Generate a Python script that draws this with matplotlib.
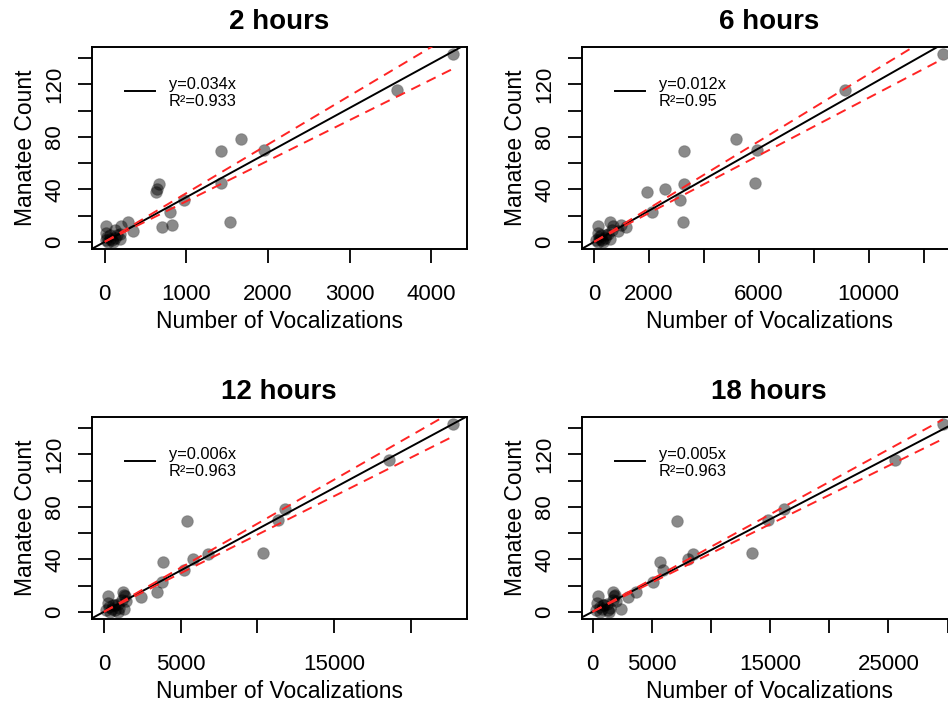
import matplotlib
matplotlib.use('Agg')
import matplotlib.pyplot as plt
import numpy as np

plt.rcParams['font.family'] = ['Liberation Sans', 'DejaVu Sans']

# manatee counts per event (same events in every panel)
manatee_count = [143, 116, 78, 70, 69, 45, 44, 40, 38, 32, 23, 15, 15, 13, 11, 12,
                 12, 8, 7, 6, 5, 4, 3, 2, 2, 1, 1, 0, 0, 5, 9]

# number of vocalizations for each time window
voc_2h = [4266, 3579, 1669, 1955, 1419, 1427, 659, 645, 634, 973, 798, 1530, 286, 826, 703, 12,
          205, 347, 20, 190, 150, 30, 120, 184, 61, 90, 10, 45, 100, 70, 130]
voc_6h = [12700, 9143, 5155, 5945, 3270, 5860, 3270, 2578, 1933, 3125, 2091, 3246, 571, 985, 1167, 150,
          700, 864, 135, 500, 420, 180, 380, 560, 220, 300, 50, 150, 330, 260, 640]
voc_12h = [22720, 18587, 11761, 11348, 5435, 10370, 6783, 5804, 3848, 5196, 3783, 3478, 1219, 1300, 2412, 241,
           1350, 1434, 241, 900, 750, 350, 1000, 1330, 500, 700, 110, 400, 900, 600, 1200]
voc_18h = [29600, 25578, 16215, 14862, 7107, 13452, 8460, 8094, 5696, 5978, 5076, 3666, 1717, 1900, 2986, 448,
           1800, 2000, 400, 1200, 1000, 600, 1500, 2420, 800, 1294, 260, 600, 1400, 900, 1700]

titles = ['2 hours', '6 hours', '12 hours', '18 hours']
slopes = [0.034, 0.01188, 0.0063, 0.0047]
ci_half = [0.0031, 0.0009, 0.00042, 0.00025]
eq_labels = ['y=0.034x', 'y=0.012x', 'y=0.006x', 'y=0.005x']
r2_labels = ['R\u00b2=0.933', 'R\u00b2=0.95', 'R\u00b2=0.963', 'R\u00b2=0.963']

x_ticks = [[0, 1000, 2000, 3000, 4000],
           [0, 2000, 4000, 6000, 8000, 10000, 12000],
           [0, 5000, 10000, 15000, 20000],
           [0, 5000, 10000, 15000, 20000, 25000, 30000]]
x_ticklabels = [['0', '1000', '2000', '3000', '4000'],
                ['0', '2000', '', '6000', '', '10000', ''],
                ['0', '5000', '', '15000', ''],
                ['0', '5000', '', '15000', '', '25000', '']]
y_ticks = [0, 20, 40, 60, 80, 100, 120, 140]
y_ticklabels = ['0', '', '40', '', '80', '', '120', '']

W, H = 948, 703
fig = plt.figure(figsize=(W / 100, H / 100), dpi=100)

# axes boxes in pixels: left, top
boxes = [(91.7, 46.7), (581.7, 46.7), (91.7, 416.7), (581.7, 416.7)]
bw, bh = 375, 202.6

y = np.array(manatee_count, dtype=float)
for i, xv in enumerate([voc_2h, voc_6h, voc_12h, voc_18h]):
    x = np.array(xv, dtype=float)
    l, t = boxes[i]
    ax = fig.add_axes([l / W, 1 - (t + bh) / H, bw / W, bh / H])

    ax.scatter(x, y, s=72, facecolor=(0, 0, 0, 0.46), edgecolor=(0, 0, 0, 0.15),
               linewidth=0.9, zorder=2)

    xr = x.max() - x.min()
    yr = y.max() - y.min()
    ax.set_xlim(x.min() - 0.04 * xr, x.max() + 0.04 * xr)
    ax.set_ylim(y.min() - 0.04 * yr, y.max() + 0.04 * yr)

    ax.axline((0, 0), slope=slopes[i], color='black', lw=1.4, zorder=3)
    xs = np.array([0, x.max()])
    for sgn in (1, -1):
        ax.plot(xs, (slopes[i] + sgn * ci_half[i]) * xs, color='#ff2424', lw=1.4,
                dashes=(5.2, 3.6), zorder=4)

    ax.set_xticks(x_ticks[i])
    ax.set_xticklabels(x_ticklabels[i])
    ax.set_yticks(y_ticks)
    ax.set_yticklabels(y_ticklabels, rotation=90, va='center')
    ax.tick_params(axis='both', length=10, width=1.3, labelsize=16, direction='out')
    ax.tick_params(axis='x', pad=15)
    ax.tick_params(axis='y', pad=9)
    for sp in ax.spines.values():
        sp.set_linewidth(1.4)

    ax.set_xlabel('Number of Vocalizations', fontsize=16.5)
    ax.set_ylabel('Manatee Count', fontsize=16.5)
    ax.xaxis.set_label_coords(0.5, -0.30)
    ax.yaxis.set_label_coords(-0.145, 0.5)
    ax.set_title(titles[i], fontsize=20, fontweight='bold', pad=12.5)

    # legend (no box)
    ax.plot([0.089, 0.169], [0.783, 0.783], transform=ax.transAxes, color='black', lw=1.4)
    ax.text(0.206, 0.792, eq_labels[i], transform=ax.transAxes, fontsize=11.8, va='baseline')
    ax.text(0.206, 0.705, r2_labels[i], transform=ax.transAxes, fontsize=11.8, va='baseline')

fig.savefig('out.png', dpi=100)
